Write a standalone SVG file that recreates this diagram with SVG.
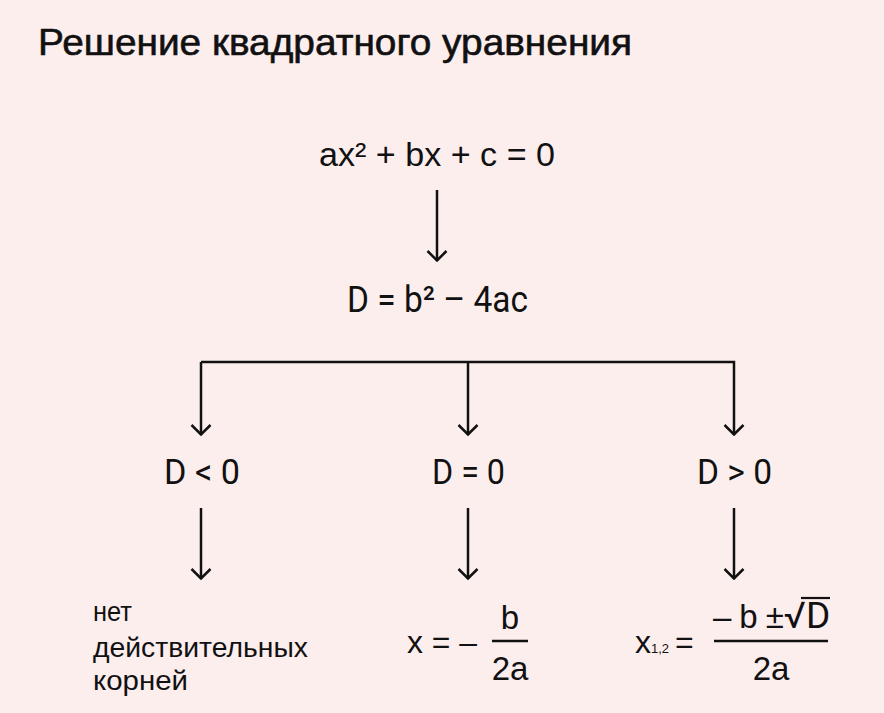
<svg xmlns="http://www.w3.org/2000/svg" width="884" height="713" viewBox="0 0 884 713">
<defs>
<style>
.t{font-family:"Liberation Sans","DejaVu Sans",sans-serif;fill:#111}
.d{font-family:"Roboto","Liberation Sans",sans-serif;fill:#111}
.c{stroke:#111;stroke-width:2.5;fill:none}
</style>
<marker id="ah" viewBox="0 0 12 22" refX="11" refY="11" markerWidth="12" markerHeight="22" markerUnits="userSpaceOnUse" orient="auto">
<path d="M1,1.5 L10.5,11 L1,20.5" fill="none" stroke="#111" stroke-width="2.5"/>
</marker>
</defs>
<rect width="884" height="713" fill="#FDEEEE"/>
<text class="t" x="38" y="55" font-size="37" stroke="#111" stroke-width="0.6" textLength="594" lengthAdjust="spacingAndGlyphs">Решение квадратного уравнения</text>
<g id="eq">
<text class="t" x="319" y="166" font-size="33" textLength="236" lengthAdjust="spacingAndGlyphs">ax² + bx + c = 0</text>
</g>
<g id="disc">
<text class="d" x="347" y="312" font-size="37" textLength="181" lengthAdjust="spacingAndGlyphs">D = b² – 4ac</text>
</g>
<g id="neg">
<text class="d" x="164" y="484" font-size="35" textLength="76" lengthAdjust="spacingAndGlyphs">D &lt; 0</text>
</g>
<g id="zero">
<text class="d" x="432" y="484" font-size="35" textLength="73" lengthAdjust="spacingAndGlyphs">D = 0</text>
</g>
<g id="pos">
<text class="d" x="697" y="484" font-size="35" textLength="75" lengthAdjust="spacingAndGlyphs">D &gt; 0</text>
</g>
<g id="noroots">
<text class="t" font-size="27"><tspan x="93" y="621" textLength="39" lengthAdjust="spacingAndGlyphs">нет</tspan><tspan x="93" y="657" textLength="215" lengthAdjust="spacingAndGlyphs">действительных</tspan><tspan x="93" y="690" textLength="95" lengthAdjust="spacingAndGlyphs">корней</tspan></text>
</g>
<g id="oneroot">
<text class="t" x="407" y="653" font-size="32" textLength="70" lengthAdjust="spacingAndGlyphs">x = –</text>
<text class="t" x="510" y="629" font-size="33" text-anchor="middle">b</text>
<line x1="492" y1="641" x2="528" y2="641" stroke="#111" stroke-width="2.5"/>
<text class="t" x="510" y="680" font-size="33" text-anchor="middle">2a</text>
</g>
<g id="tworoots">
<text class="t" x="635" y="653" font-size="32">x<tspan font-size="13">1,2</tspan><tspan dx="6">=</tspan></text>
<text class="t" x="713" y="628" font-size="33">–<tspan dx="8">b</tspan><tspan dx="8">±</tspan><tspan class="d" font-size="37">√D</tspan></text>
<line x1="801" y1="598" x2="830" y2="598" stroke="#111" stroke-width="2.2"/>
<line x1="714" y1="641" x2="828" y2="641" stroke="#111" stroke-width="2.5"/>
<text class="t" x="771" y="680" font-size="33" text-anchor="middle">2a</text>
</g>
<g id="connectors">
<line class="c" x1="437" y1="190" x2="437" y2="261" marker-end="url(#ah)"/>
<path class="c" d="M201,362 H734 V435" marker-end="url(#ah)"/>
<line class="c" x1="201" y1="362" x2="201" y2="435" marker-end="url(#ah)"/>
<line class="c" x1="468" y1="362" x2="468" y2="435" marker-end="url(#ah)"/>
<line class="c" x1="201" y1="508" x2="201" y2="579" marker-end="url(#ah)"/>
<line class="c" x1="468" y1="508" x2="468" y2="579" marker-end="url(#ah)"/>
<line class="c" x1="734" y1="508" x2="734" y2="579" marker-end="url(#ah)"/>
</g>
</svg>
